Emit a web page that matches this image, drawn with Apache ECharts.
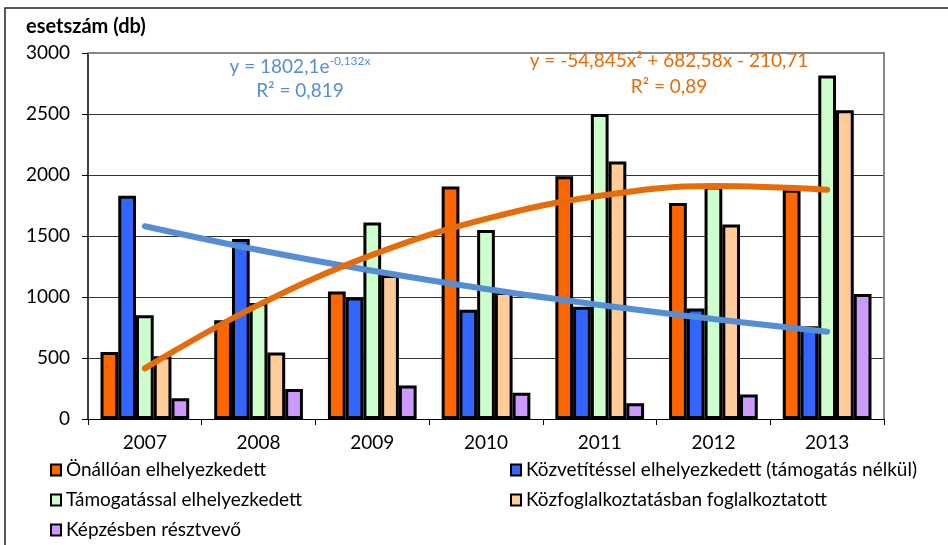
<!DOCTYPE html>
<html>
<head>
<meta charset="utf-8">
<script src="https://cdn.jsdelivr.net/npm/echarts@6/dist/echarts.min.js"></script>
<style>
html, body { margin: 0; padding: 0; background: #fff; }
#chart { width: 948px; height: 545px; }
</style>
</head>
<body>
<div id="chart"></div>
<script>
const FONT = "Lato, 'Open Sans', sans-serif";

const years = ["2007", "2008", "2009", "2010", "2011", "2012", "2013"];

const onallo = [550, 810, 1045, 1905, 1990, 1770, 1880];
const kozvetites = [1830, 1475, 995, 895, 920, 905, 760];
const tamogatas = [850, 950, 1610, 1550, 2500, 1905, 2815];
const kozfoglalkoztatas = [515, 545, 1180, 1040, 2110, 1595, 2530];
const kepzes = [170, 245, 275, 215, 130, 200, 1025];

// trendlines
const expTrend = [1580, 1385, 1215, 1065, 935, 820, 715];
const polyTrend = [415, 935, 1345, 1640, 1830, 1910, 1880];

const names = [
	"Önállóan elhelyezkedett",
	"Közvetítéssel elhelyezkedett (támogatás nélkül)",
	"Támogatással elhelyezkedett",
	"Közfoglalkoztatásban foglalkoztatott",
	"Képzésben résztvevő",
];
const barColors = ["#FF6600", "#3366FF", "#CCFFCC", "#FFCC99", "#CC99FF"];
const barData = [onallo, kozvetites, tamogatas, kozfoglalkoztatas, kepzes];

const chart = echarts.init(document.getElementById("chart"));

const bars = barData.map((d, i) => ({
	name: names[i],
	type: "bar",
	data: d,
	barGap: "0%",
	barCategoryGap: "22%",
	itemStyle: { color: barColors[i], borderColor: "#000", borderWidth: 3 },
	z: 2,
}));

const trendLine = (data, color) => ({
	type: "line",
	data: data,
	smooth: 0.4,
	showSymbol: false,
	symbol: "none",
	silent: true,
	lineStyle: { color: color, width: 6, cap: "round" },
	z: 5,
});

const legendText = { fontFamily: FONT, fontSize: 19, color: "#000", lineHeight: 20 };
const legendBase = {
	orient: "vertical", top: 455, itemGap: 10,
	itemWidth: 10, itemHeight: 11, icon: "rect",
	itemStyle: { borderColor: "#000", borderWidth: 2 },
	textStyle: legendText,
};

chart.setOption({
	animation: false,
	textStyle: { fontFamily: FONT },
	grid: { left: 88, right: 64, top: 53, bottom: 126 },
	legend: [
		Object.assign({}, legendBase, { left: 45, data: [names[0], names[2], names[4]] }),
		Object.assign({}, legendBase, { left: 505, data: [names[1], names[3]] }),
	],
	xAxis: {
		type: "category",
		data: years,
		axisLine: { lineStyle: { color: "#000", width: 1 } },
		axisTick: { show: true, length: 6, lineStyle: { color: "#000" } },
		axisLabel: { color: "#000", fontSize: 19, fontFamily: FONT, margin: 14 },
	},
	yAxis: {
		type: "value",
		min: 0,
		max: 3000,
		interval: 500,
		axisLine: { show: true, lineStyle: { color: "#000", width: 1.5 } },
		axisTick: { show: true, length: 6, lineStyle: { color: "#000" } },
		axisLabel: {
			color: "#000", fontSize: 19, fontFamily: FONT, margin: 18,
			formatter: (v) => String(v),
		},
		splitLine: { lineStyle: { color: "#333", width: 1 } },
	},
	graphic: [
		{
			type: "rect", silent: true, z: -1,
			shape: { x: 5, y: 8, width: 1000, height: 600 },
			style: { fill: null, stroke: "#222", lineWidth: 1.5 },
		},
		{
			type: "polyline", silent: true, z: 10,
			shape: { points: [[88, 53], [884, 53], [884, 419]] },
			style: { fill: null, stroke: "#888", lineWidth: 2 },
		},
		{
			type: "text", left: 26, top: 17,
			style: { text: "esetszám (db)", font: "bold 20px " + FONT, fill: "#000" },
		},
		{
			type: "text", x: 300, y: 55, z: 20,
			style: {
				text: "{b|y = 1802,1e}{s|-0,132x}",
				align: "center",
				rich: {
					b: { fontSize: 19, fontFamily: FONT, fill: "#558ED5", verticalAlign: "bottom" },
					s: { fontSize: 12, fontFamily: FONT, fill: "#558ED5", verticalAlign: "top", padding: [0, 0, 9, 0] },
				},
			},
		},
		{
			type: "text", x: 300, y: 81, z: 20,
			style: { text: "R² = 0,819", align: "center", font: "19px " + FONT, fill: "#558ED5" },
		},
		{
			type: "text", x: 669, y: 51, z: 20,
			style: { text: "y = -54,845x² + 682,58x - 210,71", align: "center", font: "19px " + FONT, fill: "#E46C0A" },
		},
		{
			type: "text", x: 669, y: 77, z: 20,
			style: { text: "R² = 0,89", align: "center", font: "19px " + FONT, fill: "#E46C0A" },
		},
	],
	series: bars.concat([
		trendLine(expTrend, "#558ED5"),
		trendLine(polyTrend, "#E46C0A"),
	]),
});
</script>
</body>
</html>
